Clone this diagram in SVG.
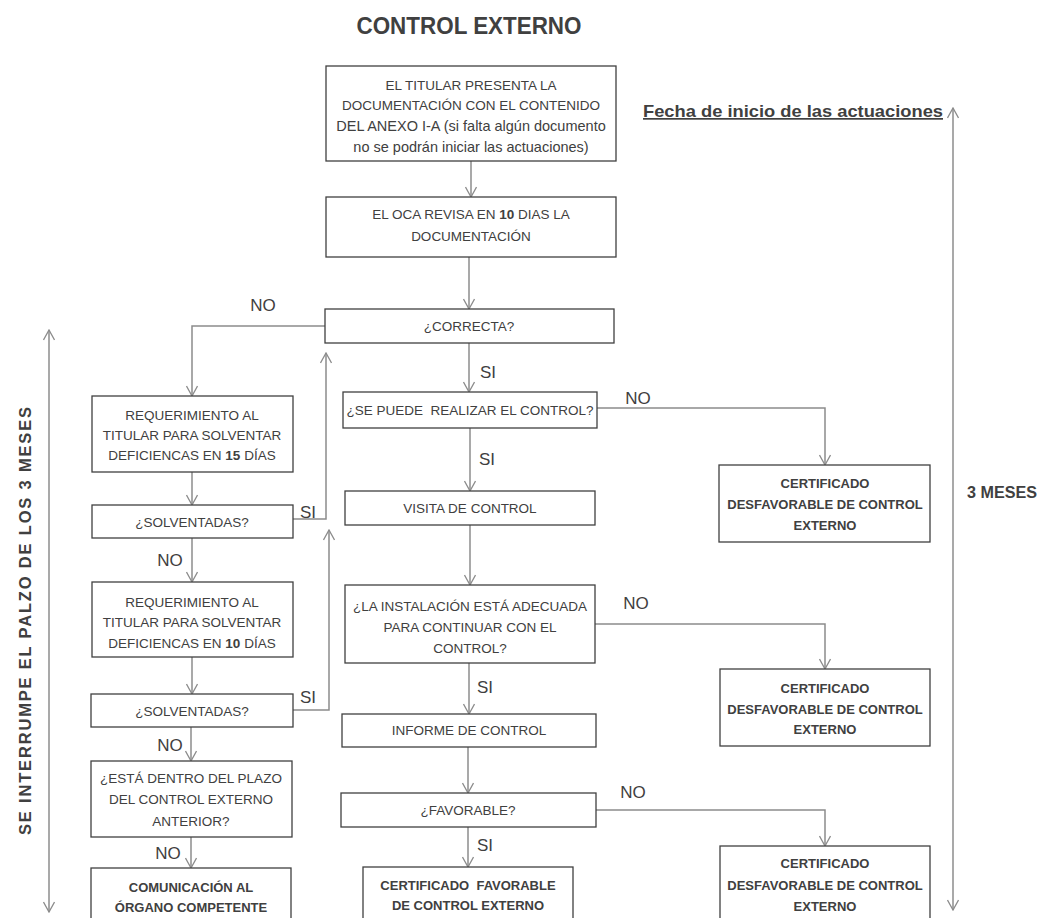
<svg xmlns="http://www.w3.org/2000/svg" width="1042" height="918" viewBox="0 0 1042 918">
<defs>
<marker id="ah" viewBox="0 0 12 12" refX="11" refY="6" markerWidth="12" markerHeight="12" markerUnits="userSpaceOnUse" orient="auto-start-reverse">
<path d="M1,0.5 L11,6 L1,11.5" fill="none" stroke="#8c8c8c" stroke-width="1.3"/>
</marker>
<style>
.box{fill:#fff;stroke:#404040;stroke-width:1.3}
.t{font-family:"Liberation Sans",Arial,sans-serif;font-size:13.5px;fill:#404040;text-anchor:middle}
.tl{font-family:"Liberation Sans",Arial,sans-serif;font-size:14.5px;fill:#404040;text-anchor:middle}
.b{font-family:"Liberation Sans",Arial,sans-serif;font-size:13px;font-weight:bold;fill:#404040;text-anchor:middle}
.lbl{font-family:"Liberation Sans",Arial,sans-serif;font-size:17px;fill:#404040;text-anchor:middle}
.ca{fill:none;stroke:#8c8c8c;stroke-width:1.5;marker-end:url(#ah)}
.cd{fill:none;stroke:#8c8c8c;stroke-width:1.5;marker-end:url(#ah);marker-start:url(#ah)}
</style>
</defs>
<rect width="1042" height="918" fill="#fff"/>
<text x="469" y="34" font-family="Liberation Sans,Arial,sans-serif" font-size="24" font-weight="bold" fill="#404040" text-anchor="middle" textLength="225" lengthAdjust="spacingAndGlyphs">CONTROL EXTERNO</text>
<text x="643" y="117" font-family="Liberation Sans,Arial,sans-serif" font-size="17" font-weight="bold" fill="#404040" text-decoration="underline" textLength="300" lengthAdjust="spacingAndGlyphs">Fecha de inicio de las actuaciones</text>
<text x="967" y="498" font-family="Liberation Sans,Arial,sans-serif" font-size="16.5" font-weight="bold" fill="#404040" textLength="70" lengthAdjust="spacingAndGlyphs">3 MESES</text>
<text transform="translate(31,621) rotate(-90)" font-family="Liberation Sans,Arial,sans-serif" font-size="16.5" font-weight="bold" fill="#404040" text-anchor="middle" textLength="428">SE INTERRUMPE EL PALZO DE LOS 3 MESES</text>

<g id="connectors">
<path class="ca" d="M471,161 V197"/>
<path class="ca" d="M469,257 V309"/>
<path class="ca" d="M325,326 H192 V396"/>
<path class="ca" d="M469,343 V392"/>
<path class="ca" d="M597,408 H825 V465"/>
<path class="ca" d="M470,428 V491"/>
<path class="ca" d="M470,525 V585"/>
<path class="ca" d="M595,624 H825 V669"/>
<path class="ca" d="M469,663 V714"/>
<path class="ca" d="M468,747 V793"/>
<path class="ca" d="M596,810 H825 V846"/>
<path class="ca" d="M468,827 V867"/>
<path class="ca" d="M192,472 V505"/>
<path class="ca" d="M293,519 H326 V353"/>
<path class="ca" d="M192,538 V582"/>
<path class="ca" d="M192,657 V694"/>
<path class="ca" d="M293,710 H329 V530"/>
<path class="ca" d="M191,727 V761"/>
<path class="ca" d="M191,837 V868"/>
<path class="cd" d="M49,330 V912"/>
<path class="cd" d="M953,108 V910"/>
<text class="lbl" x="263" y="311">NO</text>
<text class="lbl" x="488" y="378">SI</text>
<text class="lbl" x="638" y="404">NO</text>
<text class="lbl" x="487" y="465">SI</text>
<text class="lbl" x="636" y="609">NO</text>
<text class="lbl" x="485" y="693">SI</text>
<text class="lbl" x="633" y="798">NO</text>
<text class="lbl" x="485" y="851">SI</text>
<text class="lbl" x="308" y="518">SI</text>
<text class="lbl" x="170" y="566">NO</text>
<text class="lbl" x="308" y="703">SI</text>
<text class="lbl" x="170" y="751">NO</text>
<text class="lbl" x="168" y="859">NO</text>
</g>

<g id="n1"><rect class="box" x="326" y="66" width="290" height="95"/>
<text class="t" x="471" y="90">EL TITULAR PRESENTA LA</text>
<text class="t" x="471" y="110">DOCUMENTACIÓN CON EL CONTENIDO</text>
<text class="tl" x="471" y="131">DEL ANEXO I-A (si falta algún documento</text>
<text class="tl" x="471" y="152">no se podrán iniciar las actuaciones)</text></g>
<g id="n2"><rect class="box" x="326" y="197" width="290" height="60"/>
<text class="t" x="471" y="219">EL OCA REVISA EN <tspan font-weight="bold">10</tspan> DIAS LA</text>
<text class="t" x="471" y="241">DOCUMENTACIÓN</text></g>
<g id="n3"><rect class="box" x="325" y="309" width="289" height="34"/>
<text class="t" x="469" y="331">¿CORRECTA?</text></g>
<g id="n4"><rect class="box" x="343" y="392" width="254" height="36"/>
<text class="t" x="470" y="415">¿SE PUEDE&#160; REALIZAR EL CONTROL?</text></g>
<g id="n5"><rect class="box" x="345" y="491" width="250" height="34"/>
<text class="t" x="470" y="513">VISITA DE CONTROL</text></g>
<g id="n6"><rect class="box" x="345" y="585" width="250" height="78"/>
<text class="t" x="470" y="611">¿LA INSTALACIÓN ESTÁ ADECUADA</text>
<text class="t" x="470" y="632">PARA CONTINUAR CON EL</text>
<text class="t" x="470" y="653">CONTROL?</text></g>
<g id="n7"><rect class="box" x="342" y="714" width="254" height="33"/>
<text class="t" x="469" y="735">INFORME DE CONTROL</text></g>
<g id="n8"><rect class="box" x="341" y="793" width="255" height="34"/>
<text class="t" x="468" y="815">¿FAVORABLE?</text></g>
<g id="n9"><rect class="box" x="363" y="867" width="210" height="60"/>
<text class="b" x="468" y="890">CERTIFICADO&#160; FAVORABLE</text>
<text class="b" x="468" y="910">DE CONTROL EXTERNO</text></g>
<g id="n10"><rect class="box" x="719" y="465" width="211" height="77"/>
<text class="b" x="825" y="488">CERTIFICADO</text>
<text class="b" x="825" y="509">DESFAVORABLE DE CONTROL</text>
<text class="b" x="825" y="530">EXTERNO</text></g>
<g id="n11"><rect class="box" x="720" y="669" width="210" height="77"/>
<text class="b" x="825" y="693">CERTIFICADO</text>
<text class="b" x="825" y="714">DESFAVORABLE DE CONTROL</text>
<text class="b" x="825" y="734">EXTERNO</text></g>
<g id="n12"><rect class="box" x="720" y="846" width="210" height="80"/>
<text class="b" x="825" y="868">CERTIFICADO</text>
<text class="b" x="825" y="890">DESFAVORABLE DE CONTROL</text>
<text class="b" x="825" y="911">EXTERNO</text></g>
<g id="n13"><rect class="box" x="92" y="396" width="201" height="76"/>
<text class="t" x="192" y="420">REQUERIMIENTO AL</text>
<text class="t" x="192" y="440">TITULAR PARA SOLVENTAR</text>
<text class="t" x="192" y="460">DEFICIENCAS EN <tspan font-weight="bold">15</tspan> DÍAS</text></g>
<g id="n14"><rect class="box" x="92" y="505" width="201" height="33"/>
<text class="t" x="192" y="527">¿SOLVENTADAS?</text></g>
<g id="n15"><rect class="box" x="92" y="582" width="201" height="75"/>
<text class="t" x="192" y="607">REQUERIMIENTO AL</text>
<text class="t" x="192" y="627">TITULAR PARA SOLVENTAR</text>
<text class="t" x="192" y="648">DEFICIENCAS EN <tspan font-weight="bold">10</tspan> DÍAS</text></g>
<g id="n16"><rect class="box" x="91" y="694" width="202" height="33"/>
<text class="t" x="192" y="716">¿SOLVENTADAS?</text></g>
<g id="n17"><rect class="box" x="91" y="761" width="201" height="76"/>
<text class="t" x="191" y="783">¿ESTÁ DENTRO DEL PLAZO</text>
<text class="t" x="191" y="804">DEL CONTROL EXTERNO</text>
<text class="t" x="191" y="826">ANTERIOR?</text></g>
<g id="n18"><rect class="box" x="91" y="868" width="200" height="60"/>
<text class="b" x="191" y="892">COMUNICACIÓN AL</text>
<text class="b" x="191" y="912">ÓRGANO COMPETENTE</text></g>
</svg>
